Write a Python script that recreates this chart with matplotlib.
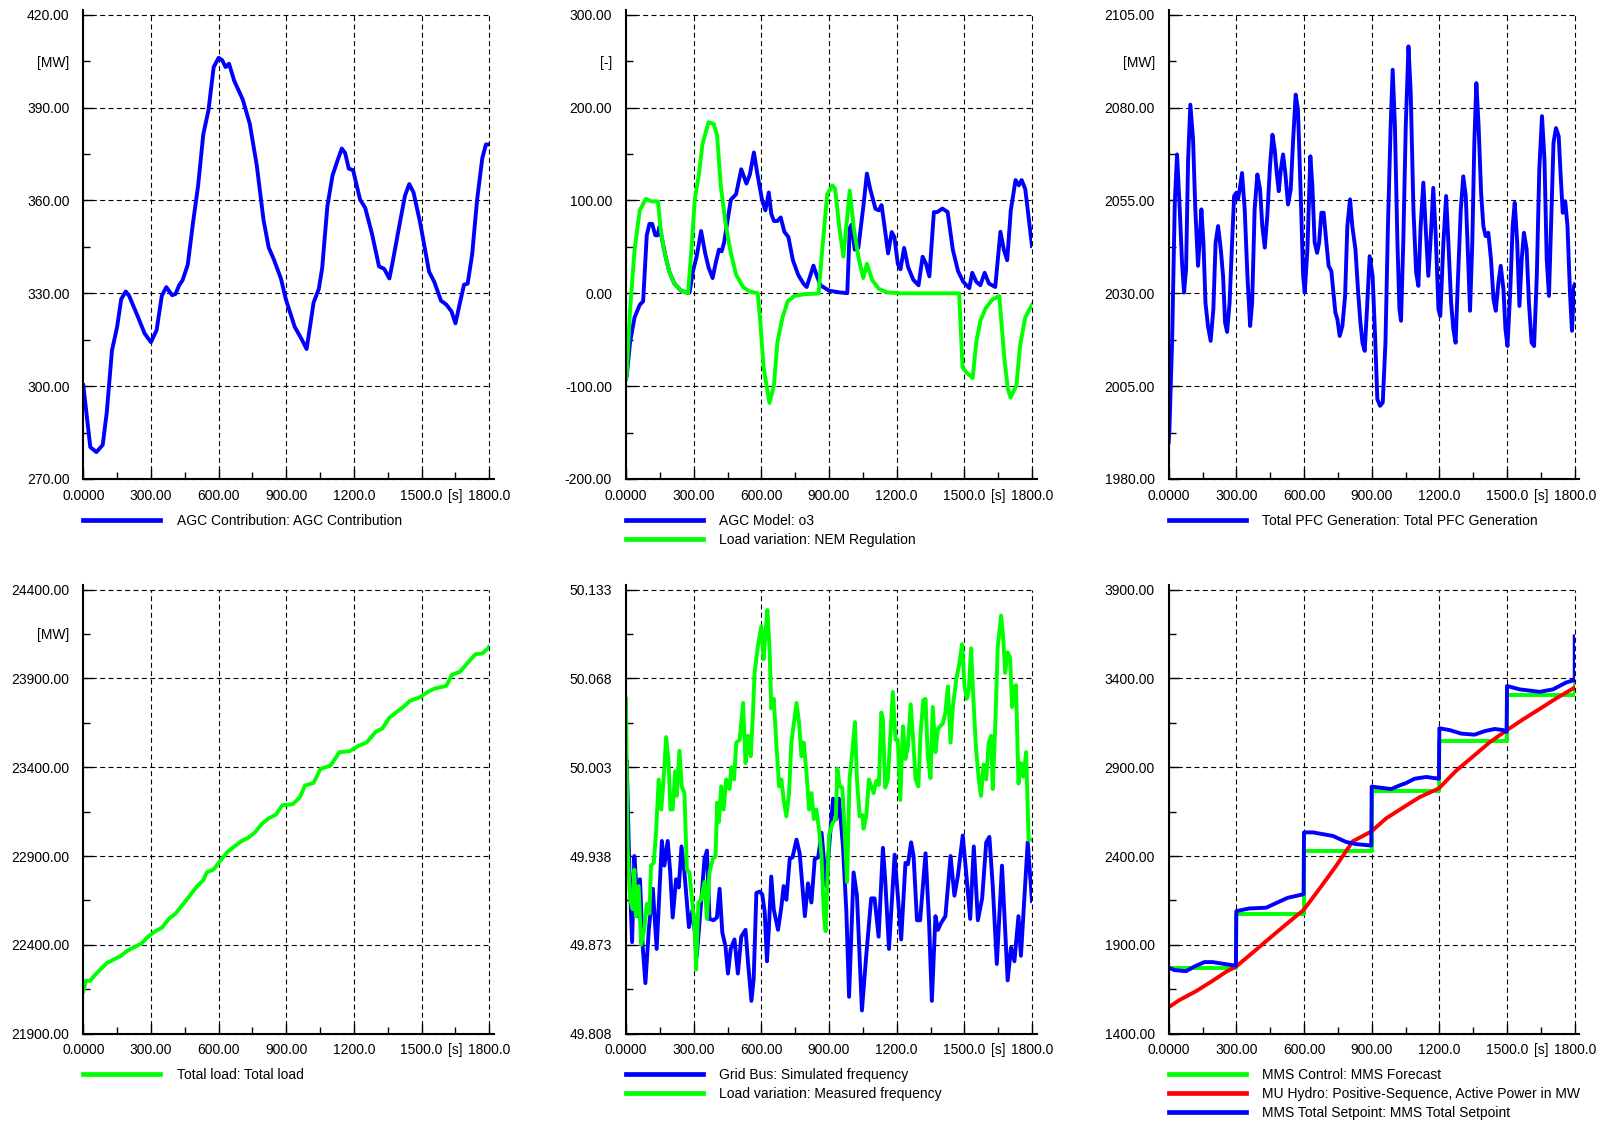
import matplotlib
matplotlib.use("Agg")
import matplotlib.pyplot as plt
import numpy as np
from matplotlib.ticker import FixedLocator, FixedFormatter

plt.rcParams["font.family"] = ["Liberation Sans", "DejaVu Sans"]
plt.rcParams["font.size"] = 10

BLUE = "#0000ff"
GREEN = "#00ff00"
RED = "#ff0000"

# ---- data (time [s], value) ----
agc_contribution = [
    (0, 300.3), (31, 280.3), (58, 278.7), (86, 281), (104, 291.5), (127, 311.5), (150, 319.2),
    (168, 328.1), (188, 330.6), (203, 329.2), (241, 322.6), (272, 317), (300, 314.2), (325, 318.1),
    (348, 329.2), (368, 332), (394, 329.4), (409, 329.8), (425, 332.6), (440, 334.2), (463, 339.2),
    (486, 352.6), (509, 364.8), (532, 381.4), (555, 389.2), (578, 403.1), (600, 406.1), (616, 405.3),
    (631, 403.1), (646, 404.2), (669, 398.7), (707, 392.6), (738, 384.8), (769, 371.4), (799, 353.7),
    (822, 344.8), (845, 340.9), (876, 334.8), (898, 328.1), (937, 319.2), (967, 315.3), (990, 312),
    (1005, 319.2), (1021, 327), (1044, 331.4), (1059, 338.1), (1082, 358.1), (1105, 368.1),
    (1128, 373.1), (1146, 376.8), (1161, 375.3), (1177, 370.3), (1196, 369.8), (1227, 360.3),
    (1250, 357.6), (1280, 349.2), (1311, 338.7), (1334, 337.9), (1357, 334.8), (1372, 340.3),
    (1403, 352.6), (1426, 361.5), (1445, 365.3), (1464, 362.6), (1494, 352.6), (1533, 337),
    (1556, 333.7), (1586, 327.6), (1609, 326.4), (1632, 324.2), (1650, 320.3), (1670, 327),
    (1688, 332.8), (1704, 333.1), (1724, 342.6), (1746, 360.3), (1769, 373.7), (1785, 378.1),
    (1800, 378.1),
]

agc_o3 = [
    (0, -92), (3, -89.3), (18, -52.8), (38, -25.9), (61, -12.4), (76, -8.6), (92, 62.5), (104, 74.8),
    (116, 74.8), (130, 62.5), (140, 62.5), (149, 72.1), (160, 58), (175, 40), (191, 24), (214, 10.6),
    (244, 2.9), (275, 0.3), (282, 1), (297, 24), (313, 39.4), (333, 67.1), (351, 43.3), (366, 27.9),
    (384, 16.4), (397, 31.8), (412, 47.1), (424, 45.2), (435, 54.8), (450, 77.9), (465, 100.9),
    (488, 106.7), (511, 133.6), (534, 118.2), (549, 127.8), (567, 151.7), (583, 127.8), (603, 100.9),
    (618, 89.4), (633, 108.6), (644, 85.6), (656, 77.9), (671, 77.9), (686, 81.7), (702, 66.3),
    (720, 60.6), (740, 35.6), (763, 20.2), (786, 10.6), (801, 6.8), (816, 18.3), (831, 29.8),
    (847, 18.3), (862, 8.7), (900, 2.9), (946, 1), (981, 0.2), (992, 70.2), (1000, 74), (1014, 47),
    (1030, 49), (1052, 93), (1068, 129), (1083, 112), (1106, 91), (1121, 89.4), (1133, 95),
    (1144, 76), (1162, 43), (1178, 66), (1190, 60.6), (1205, 31.8), (1217, 26), (1233, 49),
    (1251, 28), (1274, 14.5), (1297, 8.7), (1315, 39.4), (1330, 31.8), (1345, 18.3), (1365, 87.5),
    (1380, 87.5), (1403, 91.3), (1426, 87.5), (1449, 47), (1472, 24), (1495, 12.5), (1522, 5.6),
    (1535, 22.1), (1553, 12.5), (1571, 8.7), (1590, 22.1), (1609, 10.6), (1637, 6.8), (1660, 66.3),
    (1675, 47.1), (1690, 35.6), (1706, 89.4), (1727, 122), (1742, 116.3), (1754, 122), (1770, 112.5),
    (1785, 81.7), (1800, 50.9),
]

nem_regulation = [
    (0, -92), (3, -87.4), (18, -18.2), (38, 47.1), (61, 89.4), (88, 101.7), (114, 99), (142, 99),
    (153, 70.2), (168, 47.1), (191, 24), (214, 10.6), (244, 2.9), (275, 0.2), (290, 47), (305, 101),
    (323, 127.8), (339, 160.5), (354, 174), (366, 184.3), (389, 182.4), (404, 170), (420, 116.3),
    (442, 74), (465, 43.3), (488, 20.2), (519, 6.8), (549, 1.8), (584, 0.2), (595, -29.7),
    (610, -79.7), (636, -118.1), (656, -98.9), (671, -52.8), (694, -25.9), (717, -8.6), (747, -2.8),
    (793, -0.9), (854, -0.2), (870, 47.1), (892, 106.7), (915, 116.3), (927, 112.5), (946, 70.2),
    (964, 39.4), (976, 70.2), (992, 110.6), (1010, 70.2), (1030, 39.4), (1052, 16.4), (1068, 31.8),
    (1091, 14.5), (1121, 4.8), (1159, 1), (1220, 0), (1477, 0), (1492, -79.7), (1510, -85.5),
    (1537, -91.2), (1553, -52.8), (1571, -29.7), (1594, -16.3), (1624, -6.7), (1655, -2.8),
    (1678, -72), (1693, -102.8), (1705, -112.4), (1731, -98.9), (1747, -56.6), (1770, -25.9),
    (1800, -12.4),
]

pfc_generation = [
    (0, 1990), (3, 1993), (15, 2016.7), (27, 2054.4), (37, 2067.4), (49, 2052.6), (59, 2038.3),
    (68, 2030.2), (77, 2036.5), (86, 2066), (96, 2080.8), (108, 2071.4), (118, 2052.6),
    (130, 2037.4), (137, 2043.7), (145, 2052.6), (154, 2043.7), (163, 2027.5), (174, 2021.2),
    (186, 2017.2), (198, 2025.7), (208, 2043.7), (219, 2048.1), (231, 2041.8), (241, 2034.7),
    (250, 2022.1), (259, 2019.6), (270, 2027.5), (281, 2043.7), (290, 2056.2), (300, 2057.1),
    (307, 2055.3), (315, 2058), (325, 2062.4), (337, 2052.6), (349, 2034.7), (361, 2021.2),
    (370, 2027.5), (381, 2052.6), (393, 2062), (405, 2058), (415, 2048.1), (426, 2042.3),
    (437, 2050.8), (449, 2064.2), (460, 2072.7), (470, 2068.7), (479, 2062.4), (488, 2057.5),
    (497, 2063.3), (507, 2067.4), (517, 2062.4), (529, 2053.9), (541, 2058), (551, 2070.5),
    (563, 2083.5), (573, 2079.5), (585, 2057.1), (596, 2034.7), (603, 2030.2), (615, 2041.8),
    (628, 2066.9), (637, 2058.9), (647, 2043.7), (658, 2040.9), (667, 2043.7), (677, 2051.7),
    (687, 2051.7), (699, 2043.7), (709, 2037.4), (721, 2036), (732, 2029.3), (739, 2024.8),
    (748, 2023), (758, 2018.5), (770, 2021.2), (782, 2029.3), (792, 2048.1), (804, 2055.3),
    (814, 2048.1), (828, 2041.8), (840, 2030.2), (850, 2022.1), (859, 2016.7), (869, 2014.5),
    (879, 2025.7), (891, 2040), (904, 2034.7), (915, 2018.5), (925, 2001.5), (937, 1999.7),
    (949, 2000.6), (961, 2016.7), (972, 2048.1), (984, 2075), (993, 2090.2), (1003, 2075),
    (1014, 2043.7), (1023, 2025.7), (1030, 2022.6), (1040, 2043.7), (1051, 2075), (1063, 2096.5),
    (1073, 2084), (1085, 2052.6), (1097, 2035.6), (1107, 2032), (1117, 2048.1), (1129, 2059.8),
    (1139, 2048.1), (1151, 2034.7), (1162, 2045.4), (1173, 2058.4), (1184, 2045.4), (1196, 2025.7),
    (1204, 2023.9), (1218, 2043.7), (1230, 2056.2), (1240, 2043.7), (1252, 2027.5), (1262, 2020.3),
    (1272, 2016.7), (1283, 2034.7), (1295, 2052.6), (1306, 2061.5), (1317, 2056.2), (1329, 2036.5),
    (1336, 2025.3), (1346, 2043.7), (1355, 2070.5), (1364, 2086.6), (1374, 2075), (1385, 2057.1),
    (1395, 2048.1), (1405, 2045.4), (1417, 2046.3), (1429, 2039.1), (1440, 2028.4), (1450, 2025.3),
    (1462, 2032.9), (1472, 2037.4), (1484, 2031.1), (1493, 2020.3), (1502, 2015.8), (1514, 2030.2),
    (1525, 2048.1), (1534, 2054.4), (1545, 2043.7), (1555, 2026.6), (1565, 2039.1), (1575, 2046.3),
    (1587, 2041.8), (1597, 2027.5), (1609, 2016.7), (1620, 2015.8), (1632, 2034.7), (1643, 2063.3),
    (1655, 2077.7), (1666, 2066), (1676, 2039.1), (1686, 2029.3), (1695, 2048.1), (1706, 2070.5),
    (1717, 2074.5), (1729, 2072.3), (1738, 2061.5), (1747, 2051.7), (1758, 2054.8), (1768, 2048.1),
    (1779, 2030.2), (1788, 2019.9), (1797, 2032), (1800, 2032.4),
]

total_load = [
    (0, 22138), (12, 22198), (31, 22198), (50, 22228), (73, 22258), (104, 22297), (134, 22317),
    (165, 22337), (196, 22367), (226, 22387), (257, 22407), (287, 22446), (318, 22476),
    (348, 22496), (379, 22546), (409, 22576), (440, 22625), (471, 22675), (501, 22725),
    (532, 22764), (547, 22808), (578, 22824), (608, 22874), (639, 22923), (669, 22953),
    (700, 22983), (731, 23003), (761, 23033), (792, 23082), (822, 23112), (853, 23132),
    (883, 23186), (929, 23192), (960, 23231), (983, 23297), (1021, 23311), (1051, 23390),
    (1097, 23410), (1135, 23484), (1181, 23490), (1219, 23520), (1257, 23540), (1296, 23599),
    (1327, 23619), (1357, 23679), (1387, 23708), (1418, 23738), (1449, 23774), (1494, 23794),
    (1525, 23822), (1556, 23842), (1609, 23857), (1635, 23921), (1670, 23937), (1708, 23993),
    (1739, 24036), (1769, 24040), (1797, 24072), (1800, 24080),
]

sim_frequency = [
    (0, 50.003), (3, 50.008), (15, 49.928), (27, 49.875), (37, 49.938), (44, 49.921), (52, 49.894),
    (62, 49.921), (74, 49.872), (86, 49.845), (101, 49.884), (119, 49.914), (136, 49.870),
    (148, 49.911), (159, 49.949), (170, 49.931), (185, 49.949), (196, 49.926), (207, 49.893),
    (222, 49.921), (234, 49.915), (246, 49.945), (259, 49.926), (279, 49.886), (296, 49.899),
    (314, 49.865), (333, 49.904), (348, 49.936), (359, 49.942), (370, 49.892), (388, 49.891),
    (403, 49.893), (415, 49.914), (427, 49.882), (441, 49.872), (452, 49.852), (464, 49.870),
    (481, 49.877), (496, 49.852), (511, 49.879), (530, 49.884), (541, 49.860), (556, 49.832),
    (566, 49.848), (578, 49.911), (593, 49.912), (604, 49.910), (615, 49.897), (625, 49.861),
    (634, 49.887), (644, 49.923), (655, 49.899), (674, 49.884), (689, 49.901), (699, 49.916),
    (711, 49.906), (726, 49.936), (738, 49.937), (756, 49.950), (770, 49.940), (782, 49.916),
    (793, 49.894), (807, 49.918), (822, 49.904), (837, 49.936), (852, 49.937), (867, 49.955),
    (888, 49.916), (903, 49.950), (918, 49.980), (932, 49.965), (944, 49.980), (962, 49.945),
    (977, 49.897), (989, 49.835), (1009, 49.926), (1024, 49.909), (1046, 49.825), (1065, 49.865),
    (1087, 49.907), (1102, 49.907), (1120, 49.879), (1139, 49.944), (1149, 49.921), (1166, 49.870),
    (1191, 49.939), (1220, 49.877), (1239, 49.933), (1250, 49.932), (1264, 49.948), (1275, 49.938),
    (1290, 49.891), (1304, 49.891), (1328, 49.940), (1343, 49.892), (1356, 49.832), (1372, 49.894),
    (1383, 49.884), (1397, 49.889), (1416, 49.894), (1439, 49.938), (1456, 49.909), (1471, 49.923),
    (1493, 49.953), (1508, 49.926), (1526, 49.892), (1542, 49.945), (1560, 49.891), (1579, 49.907),
    (1597, 49.948), (1611, 49.952), (1626, 49.916), (1644, 49.859), (1667, 49.931), (1692, 49.847),
    (1707, 49.871), (1722, 49.861), (1740, 49.894), (1751, 49.865), (1766, 49.907), (1781, 49.948),
    (1800, 49.905),
]

meas_frequency = [
    (0, 50.053), (7, 49.945), (18, 49.906), (30, 49.899), (37, 49.928), (44, 49.894), (56, 49.916),
    (67, 49.873), (81, 49.884), (92, 49.903), (104, 49.896), (111, 49.931), (123, 49.933),
    (133, 49.955), (145, 49.994), (156, 49.972), (166, 49.992), (178, 50.025), (188, 50.009),
    (197, 49.972), (207, 49.972), (218, 50.000), (225, 49.982), (237, 50.015), (247, 49.989),
    (259, 49.984), (270, 49.928), (281, 49.926), (293, 49.906), (305, 49.884), (311, 49.855),
    (321, 49.904), (333, 49.906), (348, 49.919), (359, 49.892), (370, 49.926), (385, 49.936),
    (397, 49.938), (404, 49.977), (412, 49.963), (422, 49.989), (433, 49.972), (444, 49.994),
    (459, 49.987), (467, 50.003), (479, 49.994), (489, 50.021), (504, 50.023), (519, 50.050),
    (530, 50.006), (541, 50.026), (553, 50.011), (563, 50.043), (570, 50.072), (585, 50.092),
    (600, 50.106), (610, 50.082), (618, 50.101), (627, 50.118), (637, 50.087), (644, 50.046),
    (655, 50.053), (667, 50.019), (679, 49.989), (689, 49.994), (699, 49.979), (711, 49.967),
    (723, 49.984), (733, 50.021), (745, 50.036), (756, 50.050), (767, 50.036), (778, 50.011),
    (788, 50.021), (800, 49.999), (812, 49.972), (822, 49.984), (833, 49.965), (844, 49.972),
    (856, 49.957), (867, 49.938), (877, 49.896), (885, 49.883), (900, 49.953), (915, 49.962),
    (930, 49.965), (937, 50.002), (947, 49.989), (959, 49.988), (969, 49.958), (980, 49.919),
    (991, 49.994), (1003, 50.014), (1015, 50.036), (1024, 49.994), (1036, 49.967), (1048, 49.968),
    (1053, 49.958), (1065, 49.967), (1077, 49.994), (1087, 49.989), (1098, 49.984), (1110, 49.993),
    (1121, 49.990), (1132, 50.043), (1139, 50.038), (1149, 49.988), (1161, 49.994), (1172, 50.026),
    (1183, 50.058), (1195, 50.023), (1205, 50.023), (1216, 49.979), (1228, 50.033), (1239, 50.009),
    (1250, 50.018), (1262, 50.049), (1272, 50.026), (1284, 49.994), (1296, 49.989), (1306, 50.028),
    (1318, 50.052), (1328, 50.053), (1338, 50.011), (1350, 49.995), (1360, 50.047), (1372, 50.014),
    (1383, 50.031), (1393, 50.033), (1405, 50.035), (1416, 50.043), (1427, 50.062), (1439, 50.021),
    (1449, 50.047), (1464, 50.067), (1478, 50.079), (1490, 50.093), (1501, 50.062), (1511, 50.053),
    (1520, 50.060), (1530, 50.090), (1540, 50.053), (1552, 50.016), (1564, 49.994), (1574, 49.982),
    (1585, 50.005), (1597, 49.994), (1608, 50.021), (1619, 50.026), (1626, 49.987), (1638, 50.038),
    (1648, 50.091), (1663, 50.114), (1673, 50.096), (1681, 50.072), (1692, 50.087), (1703, 50.083),
    (1712, 50.047), (1722, 50.062), (1729, 50.063), (1740, 49.991), (1751, 50.006), (1762, 49.996),
    (1774, 50.014), (1785, 49.950), (1800, 49.950),
]

mms_forecast = [
    (0, 1772), (300, 1772), (300, 2076), (600, 2076), (600, 2430), (900, 2430), (900, 2767),
    (1200, 2767), (1200, 3050), (1500, 3050), (1500, 3308), (1800, 3308), (1800, 3365),
]

hydro_power = [
    (0, 1549), (47, 1589), (121, 1639), (195, 1698), (254, 1748), (299, 1778), (373, 1857),
    (447, 1937), (521, 2016), (598, 2096), (668, 2215), (742, 2344), (816, 2483), (898, 2538),
    (964, 2612), (1038, 2672), (1112, 2731), (1198, 2781), (1275, 2881), (1349, 2960), (1423, 3040),
    (1500, 3109), (1571, 3169), (1645, 3228), (1719, 3288), (1800, 3348),
]

mms_setpoint = [
    (0, 1772), (25, 1758), (77, 1752), (114, 1778), (158, 1803), (195, 1803), (254, 1791),
    (298, 1783), (300, 2090), (358, 2105), (432, 2109), (476, 2135), (528, 2165), (598, 2185),
    (600, 2533), (639, 2533), (728, 2513), (787, 2479), (831, 2467), (898, 2459), (900, 2791),
    (935, 2785), (987, 2777), (1023, 2797), (1053, 2811), (1090, 2835), (1142, 2845), (1198, 2835),
    (1200, 3119), (1245, 3109), (1297, 3089), (1356, 3083), (1401, 3103), (1445, 3115), (1482, 3109),
    (1498, 3099), (1500, 3357), (1556, 3338), (1645, 3324), (1704, 3338), (1763, 3377), (1790, 3387),
    (1800, 3387), (1800, 3636),
]

x_ticks = [0, 300, 600, 900, 1200, 1500, 1800]
x_labels = ["0.0000", "300.00", "600.00", "900.00", "1200.0", "1500.0", "1800.0"]
x_minor = [150, 450, 750, 1050, 1350, 1650]
x_minor_labels = ["", "", "", "", "", "[s]"]

W, H = 1603, 1124
fig = plt.figure(figsize=(W / 100, H / 100), dpi=100)

lefts = [83.3, 626.0, 1168.7]
top_row = (14.8, 479.0)
bot_row = (589.5, 1033.7)
ax_w = 406.0


def make_axes(col, row):
    top, bottom = row
    return fig.add_axes([lefts[col] / W, 1 - bottom / H, ax_w / W, (bottom - top) / H])


def style(ax, ylim, yticks, ylabels, unit=None, unit_pos=None):
    ax.set_xlim(0, 1800)
    ax.set_ylim(*ylim)
    step = yticks[1] - yticks[0]
    yminor = [y + step / 2 for y in yticks[:-1]]
    ax.xaxis.set_major_locator(FixedLocator(x_ticks))
    ax.xaxis.set_major_formatter(FixedFormatter(x_labels))
    ax.xaxis.set_minor_locator(FixedLocator(x_minor))
    ax.xaxis.set_minor_formatter(FixedFormatter(x_minor_labels))
    ax.yaxis.set_major_locator(FixedLocator(yticks))
    ax.yaxis.set_major_formatter(FixedFormatter(ylabels))
    ax.yaxis.set_minor_locator(FixedLocator(yminor))
    ylab_minor = ["" for _ in yminor]
    if unit is not None:
        ylab_minor[yminor.index(unit_pos)] = unit
    ax.yaxis.set_minor_formatter(FixedFormatter(ylab_minor))
    ax.tick_params(which="both", direction="in", labelsize=10, colors="black")
    ax.tick_params(which="major", length=7, width=1)
    ax.tick_params(which="minor", length=5, width=1)
    ax.tick_params(axis="y", which="both", pad=10)
    ax.tick_params(axis="x", which="both", pad=7)
    ax.grid(True, which="major", color="black", linestyle=(0, (4.5, 3)), linewidth=0.8)
    for gl in ax.get_xgridlines() + ax.get_ygridlines():
        gl.set_clip_on(False)
    for s in ["top", "right"]:
        ax.spines[s].set_visible(False)
    for s in ["left", "bottom"]:
        ax.spines[s].set_linewidth(1.5)
    ax.spines["bottom"].set_bounds(0, 1820)
    ax.spines["left"].set_bounds(ylim[0], ylim[1] + (ylim[1] - ylim[0]) * 0.011)


def add_legend(ax, row, gap):
    h = row[1] - row[0]
    leg = ax.legend(loc="upper left", bbox_to_anchor=(0, -gap / h), frameon=False,
                    handlelength=5.55, handletextpad=1.18, borderpad=0, borderaxespad=0,
                    labelspacing=0.38, fontsize=10)
    for ln in leg.get_lines():
        ln.set_linewidth(3.4)


LW = 2.8

# top-left
ax = make_axes(0, top_row)
t, v = np.array(agc_contribution).T
ax.plot(t, v, color=BLUE, lw=LW, label="AGC Contribution: AGC Contribution")
style(ax, (270, 420), [270, 300, 330, 360, 390, 420],
      ["270.00", "300.00", "330.00", "360.00", "390.00", "420.00"], "[MW]", 405)
add_legend(ax, top_row, 35)

# top-middle
ax = make_axes(1, top_row)
t, v = np.array(agc_o3).T
ax.plot(t, v, color=BLUE, lw=LW, label="AGC Model: o3")
t, v = np.array(nem_regulation).T
ax.plot(t, v, color=GREEN, lw=LW, label="Load variation: NEM Regulation")
style(ax, (-200, 300), [-200, -100, 0, 100, 200, 300],
      ["-200.00", "-100.00", "0.00", "100.00", "200.00", "300.00"], "[-]", 250)
add_legend(ax, top_row, 35)

# top-right
ax = make_axes(2, top_row)
t, v = np.array(pfc_generation).T
ax.plot(t, v, color=BLUE, lw=LW, label="Total PFC Generation: Total PFC Generation")
style(ax, (1980, 2105), [1980, 2005, 2030, 2055, 2080, 2105],
      ["1980.00", "2005.00", "2030.00", "2055.00", "2080.00", "2105.00"], "[MW]", 2092.5)
add_legend(ax, top_row, 35)

# bottom-left
ax = make_axes(0, bot_row)
t, v = np.array(total_load).T
ax.plot(t, v, color=GREEN, lw=LW, label="Total load: Total load")
style(ax, (21900, 24400), [21900, 22400, 22900, 23400, 23900, 24400],
      ["21900.00", "22400.00", "22900.00", "23400.00", "23900.00", "24400.00"], "[MW]", 24150)
add_legend(ax, bot_row, 34)

# bottom-middle
ax = make_axes(1, bot_row)
t, v = np.array(sim_frequency).T
ax.plot(t, v, color=BLUE, lw=LW, label="Grid Bus: Simulated frequency")
t, v = np.array(meas_frequency).T
ax.plot(t, v, color=GREEN, lw=LW, label="Load variation: Measured frequency")
style(ax, (49.808, 50.133), [49.808, 49.873, 49.938, 50.003, 50.068, 50.133],
      ["49.808", "49.873", "49.938", "50.003", "50.068", "50.133"])
add_legend(ax, bot_row, 34)

# bottom-right
ax = make_axes(2, bot_row)
t, v = np.array(mms_forecast).T
ax.plot(t, v, color=GREEN, lw=LW, label="MMS Control: MMS Forecast")
t, v = np.array(hydro_power).T
ax.plot(t, v, color=RED, lw=LW, label="MU Hydro: Positive-Sequence, Active Power in MW")
t, v = np.array(mms_setpoint).T
ax.plot(t, v, color=BLUE, lw=LW, label="MMS Total Setpoint: MMS Total Setpoint")
style(ax, (1400, 3900), [1400, 1900, 2400, 2900, 3400, 3900],
      ["1400.00", "1900.00", "2400.00", "2900.00", "3400.00", "3900.00"])
add_legend(ax, bot_row, 34)

fig.savefig("out.png", dpi=100)
